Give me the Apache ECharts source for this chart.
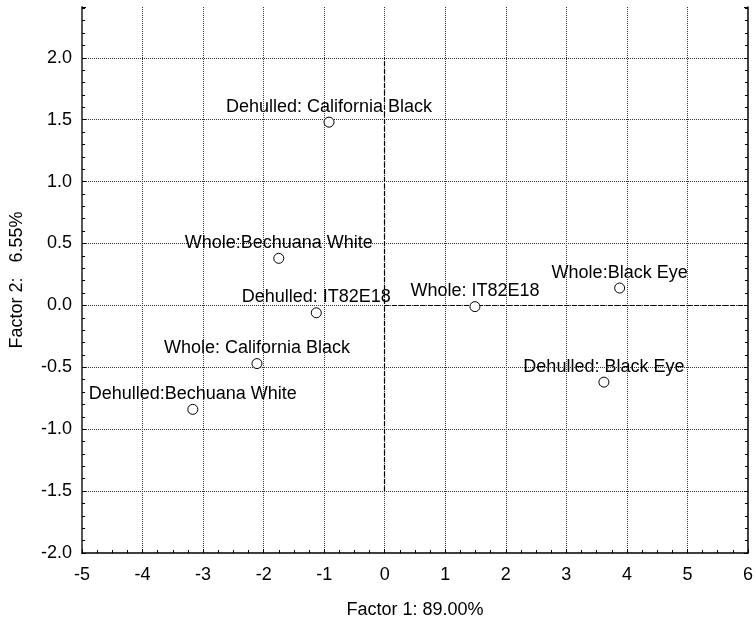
<!DOCTYPE html>
<html>
<head>
    <meta charset="utf-8"/>
    <script src="https://cdn.jsdelivr.net/npm/echarts@6/dist/echarts.min.js"></script>
    <style>
        body { margin: 0; background: #fff; }
        #main { width: 756px; height: 624px; }
    </style>
</head>
<body>
<div id="main"></div>
<script type="text/javascript">
    // 样本名称与两个因子得分
    var names = ['Dehulled: California Black', 'Whole:Bechuana White', 'Dehulled: IT82E18',
        'Whole: California Black', 'Dehulled:Bechuana White', 'Whole: IT82E18',
        'Whole:Black Eye', 'Dehulled: Black Eye'];
    var factor1 = [-0.92, -1.75, -1.13, -2.11, -3.17, 1.49, 3.88, 3.62];
    var factor2 = [1.48, 0.38, -0.06, -0.47, -0.84, -0.01, 0.14, -0.62];

    var xMin = -5, xMax = 6, xStep = 1;
    var yMin = -2, yMax = 2.41, yStep = 0.5;

    var fontFamily = 'Liberation Sans, Arial, sans-serif';
    var myChart = echarts.init(document.getElementById('main'));

    var pts = [];
    for (var i = 0; i < names.length; i++) {
        pts.push({value: [factor1[i], factor2[i]], name: names[i]});
    }

    var gridStyle = {color: '#333', type: 'dotted', width: 1};

    var option = {
        animation: false,
        textStyle: {fontFamily: fontFamily},
        grid: {left: 82, right: 6, top: 7, bottom: 71},
        xAxis: {
            type: 'value', min: xMin, max: xMax, interval: xStep,
            name: 'Factor 1: 89.00%', nameLocation: 'middle', nameGap: 48,
            nameTextStyle: {fontSize: 18, color: '#000', fontFamily: fontFamily},
            axisLine: {show: true, onZero: false, lineStyle: {color: '#000', width: 1.5}},
            axisTick: {show: true, inside: true, length: 4, lineStyle: {color: '#000'}},
            minorTick: {show: true, splitNumber: 4, length: 3, lineStyle: {color: '#000'}},
            axisLabel: {fontSize: 18, color: '#000', margin: 13},
            splitLine: {show: true, showMinLine: false, showMaxLine: false, lineStyle: gridStyle}
        },
        yAxis: [{
            type: 'value', min: yMin, max: yMax, interval: yStep,
            name: 'Factor 2:   6.55%', nameLocation: 'middle', nameGap: 56,
            nameTextStyle: {fontSize: 18, color: '#000', fontFamily: fontFamily},
            axisLine: {show: true, onZero: false, lineStyle: {color: '#555', width: 2}},
            axisTick: {show: true, inside: true, length: 4, lineStyle: {color: '#000'}},
            minorTick: {show: true, splitNumber: 5, length: 3, lineStyle: {color: '#000'}},
            axisLabel: {fontSize: 18, color: '#000', margin: 10, showMaxLabel: false,
                formatter: function (v) { return v.toFixed(1); }},
            splitLine: {show: true, showMinLine: false, showMaxLine: false, lineStyle: gridStyle}
        }, {
            type: 'value', min: yMin, max: yMax, interval: yStep, position: 'right',
            axisLine: {show: true, onZero: false, lineStyle: {color: '#000', width: 1.5}},
            axisTick: {show: true, inside: true, length: 4, lineStyle: {color: '#000'}},
            minorTick: {show: true, splitNumber: 5, length: 3, lineStyle: {color: '#000'}},
            axisLabel: {show: false},
            splitLine: {show: false}
        }],
        series: [{
            type: 'scatter',
            data: pts,
            symbol: 'circle',
            symbolSize: 10,
            itemStyle: {color: '#fff', borderColor: '#000', borderWidth: 1, opacity: 1},
            label: {
                show: true, position: 'top', distance: 1,
                formatter: '{b}', fontSize: 18, color: '#000', fontFamily: fontFamily
            },
            markLine: {
                silent: true, symbol: 'none', label: {show: false},
                lineStyle: {color: '#000', type: 'dashed', width: 1.2},
                data: [
                    [{coord: [0, -1.5]}, {coord: [0, 2.0]}],
                    [{coord: [0, 0]}, {coord: [xMax, 0]}]
                ]
            },
            z: 5
        }]
    };
    myChart.setOption(option);
</script>
</body>
</html>
